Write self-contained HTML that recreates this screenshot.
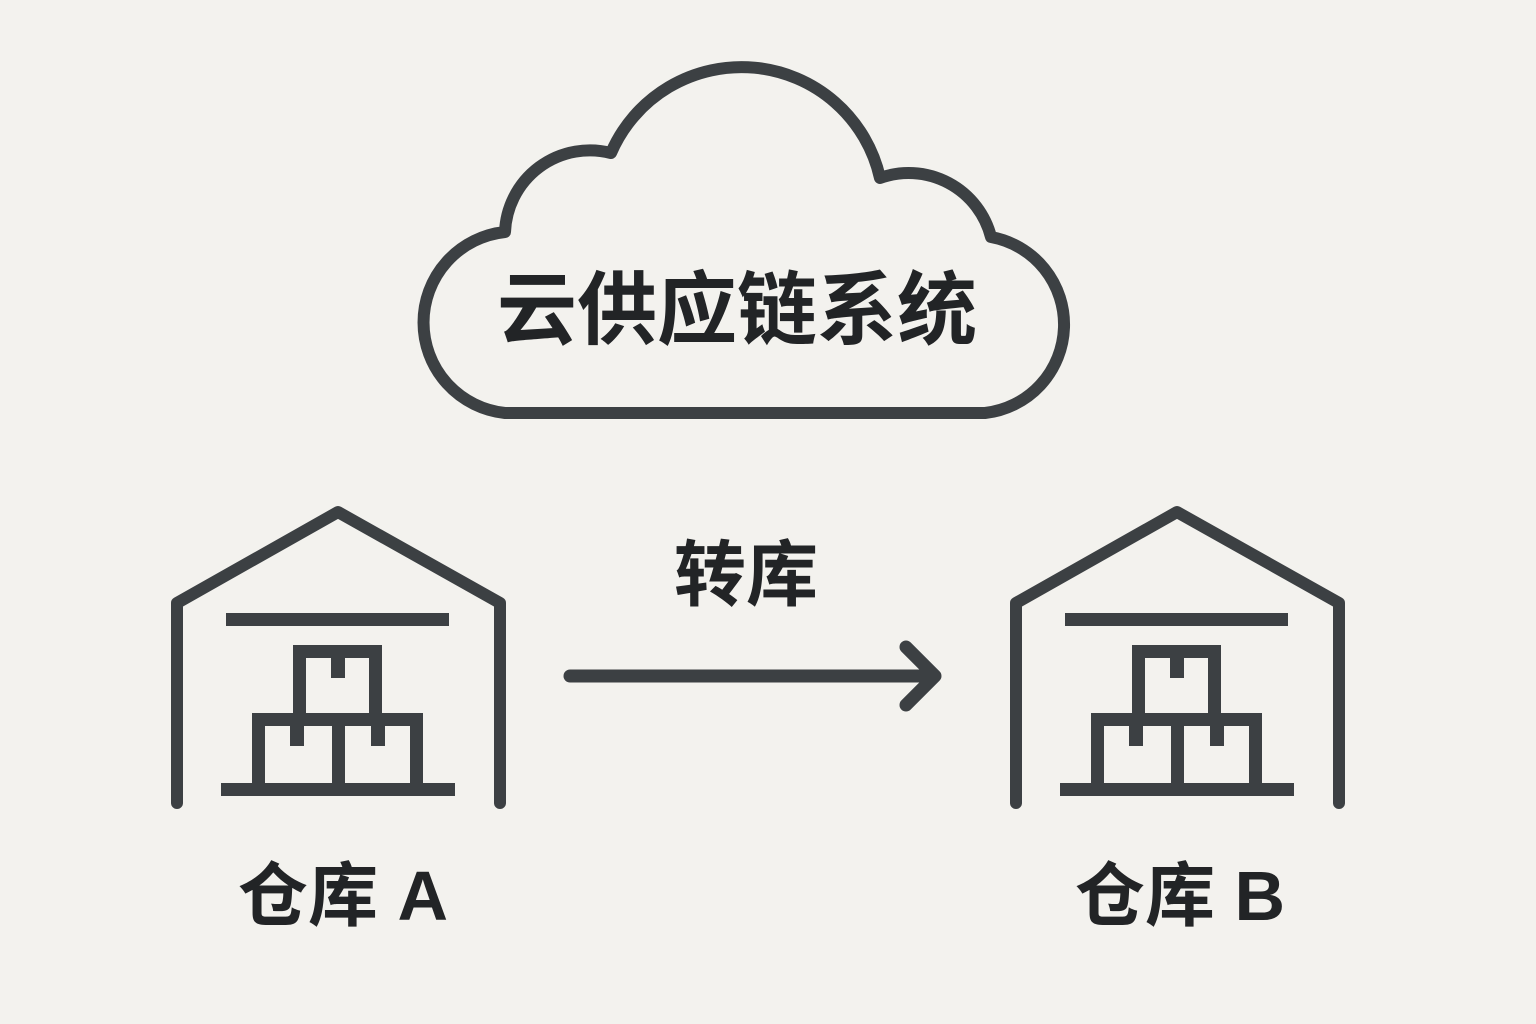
<!DOCTYPE html>
<html><head><meta charset="utf-8"><style>
html,body{margin:0;padding:0;background:#f3f2ee;}
svg{display:block}
text{font-family:"Liberation Sans","Noto Sans CJK SC",sans-serif;font-weight:bold;fill:#222426;}
</style></head><body>
<svg width="1536" height="1024" viewBox="0 0 1536 1024" xmlns="http://www.w3.org/2000/svg">
<rect width="1536" height="1024" fill="#f3f2ee"/>
<g fill="none" stroke="#3c4043" stroke-width="12" stroke-linejoin="round" stroke-linecap="round">
<path d="M505 413 L985 413 A89 89 0 0 0 991 237 A85 85 0 0 0 880 178 A142 142 0 0 0 611 153 A85 85 0 0 0 505 232 A91 91 0 0 0 505 413 Z"/>
</g>
<text x="737" y="338" font-size="80" text-anchor="middle">云供应链系统</text>
<text x="746" y="600" font-size="72" text-anchor="middle">转库</text>
<g stroke="#3c4043" stroke-width="13" stroke-linecap="round" stroke-linejoin="round" fill="none">
<line x1="570" y1="676" x2="934" y2="676"/>
<polyline points="906,647 935,676 906,705"/>
</g>
<g id="wa" fill="#3c4043">
<polyline points="177,803 177,603 338,512 500,603 500,803" fill="none" stroke="#3c4043" stroke-width="12" stroke-linecap="round" stroke-linejoin="round"/>
<rect x="226" y="613" width="223" height="13"/>
<rect x="293" y="645" width="89" height="13" rx="3"/>
<rect x="293" y="645" width="13" height="75"/>
<rect x="369" y="645" width="13" height="75"/>
<rect x="331" y="656" width="14" height="22"/>
<rect x="252" y="713" width="171" height="13" rx="3"/>
<rect x="252" y="713" width="13" height="75"/>
<rect x="410" y="713" width="13" height="75"/>
<rect x="332" y="713" width="13" height="75"/>
<rect x="290" y="724" width="14" height="22"/>
<rect x="371" y="724" width="14" height="22"/>
<rect x="221" y="783" width="234" height="13"/>
</g>
<use href="#wa" transform="translate(839,0)"/>
<text x="343" y="920" font-size="70" text-anchor="middle">仓库 A</text>
<text x="1180" y="920" font-size="70" text-anchor="middle">仓库 B</text>
</svg>
</body></html>
